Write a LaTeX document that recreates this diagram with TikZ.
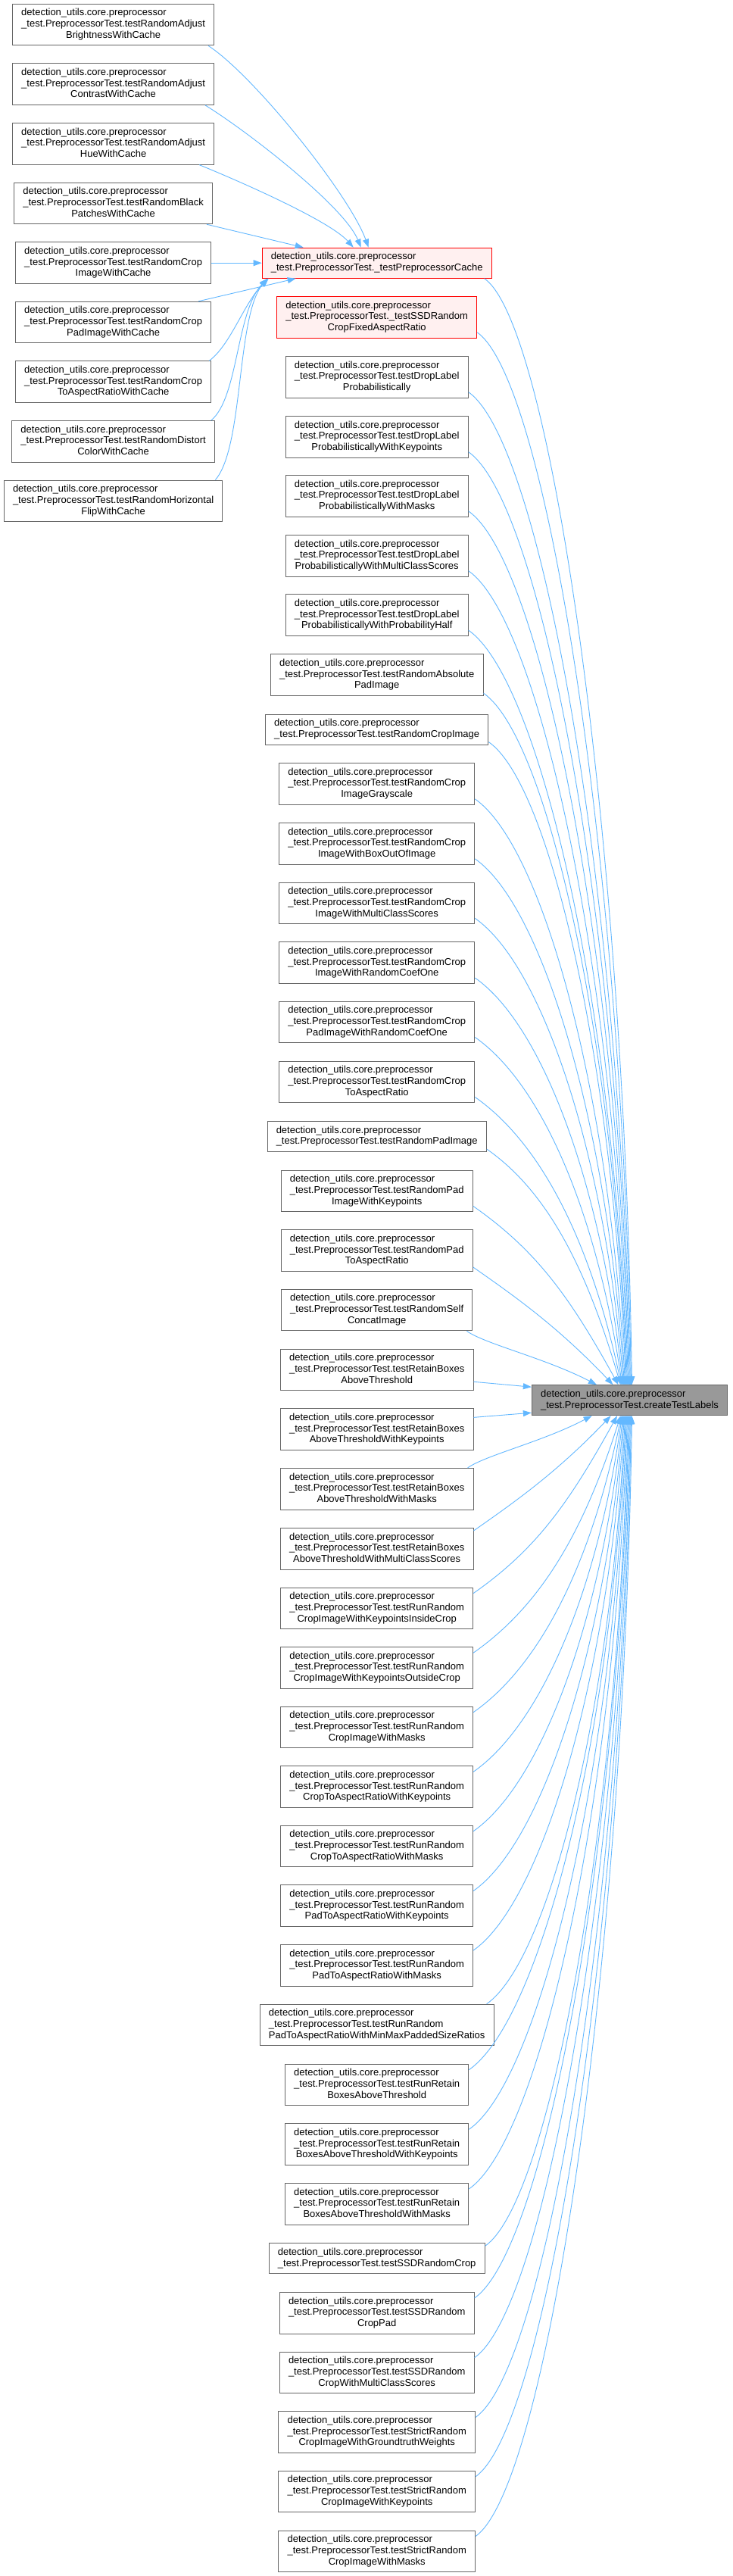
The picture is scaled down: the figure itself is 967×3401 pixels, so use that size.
\documentclass[tikz,border=0pt]{standalone}
\usepackage{fontspec}
\setmainfont{Liberation Sans}
\usetikzlibrary{arrows.meta,calc}
\definecolor{edgeblue}{HTML}{63B8FF}
\definecolor{boxgray}{HTML}{666666}
\definecolor{redfill}{HTML}{FFF0F0}
\definecolor{ctlfill}{HTML}{999999}
\newcommand\dxlab[2]{\begin{tabular}{@{}l@{}}detection\_utils.core.preprocessor\\\_test.PreprocessorTest.#1\\\multicolumn{1}{@{}c@{}}{#2}\end{tabular}}
\newcommand\dxlabtwo[1]{\begin{tabular}{@{}l@{}}detection\_utils.core.preprocessor\\\_test.PreprocessorTest.#1\end{tabular}}
\tikzset{
  fnbox/.style={rectangle, draw=boxgray, fill=white, line width=1pt, inner xsep=11.7pt, inner ysep=5.3pt, font=\fontsize{13}{14.7}\selectfont},
  redbox/.style={fnbox, draw=red, fill=redfill},
  ctlbox/.style={fnbox, fill=ctlfill},
  calledge/.style={draw=edgeblue, line width=0.9pt, -{Triangle[length=11pt,width=8pt]}}
}
\newcommand\upedge[2]{%
  \draw[calledge] let \p1=#1, \p2=($(ctl.north)+(#2,0)$),
    \n1={\x2-\x1}, \n2={\y1-\y2}, \n3={min(0.45*\n1,0.35*\n2)}, \n4={0.4*200/max(\n2,200)*\n1}
  in (\p1) .. controls ({\x1+\n3},{\y1-0.7*\n3}) and ({\x2-\n4},{\y2+0.5*\n2}) .. (\p2);}
\newcommand\downedge[2]{%
  \draw[calledge] let \p1=#1, \p2=($(ctl.south)+(#2,0)$),
    \n1={\x2-\x1}, \n2={\y2-\y1}, \n3={min(0.45*\n1,0.35*\n2)}, \n4={0.4*200/max(\n2,200)*\n1}
  in (\p1) .. controls ({\x1+\n3},{\y1+0.7*\n3}) and ({\x2-\n4},{\y2-0.5*\n2}) .. (\p2);}
\begin{document}
\begin{tikzpicture}[x=1pt,y=1pt]
\useasboundingbox (0,0) rectangle (967,-3401);
\fill[white] (0,0) rectangle (967,-3401);
% left column
\node[fnbox] (L1) at (149.6,-32.6) {\dxlab{testRandomAdjust}{BrightnessWithCache}};
\node[fnbox] (L2) at (149.6,-111.2) {\dxlab{testRandomAdjust}{ContrastWithCache}};
\node[fnbox] (L3) at (149.6,-189.8) {\dxlab{testRandomAdjust}{HueWithCache}};
\node[fnbox] (L4) at (149.6,-268.4) {\dxlab{testRandomBlack}{PatchesWithCache}};
\node[fnbox] (L5) at (149.6,-347.2) {\dxlab{testRandomCrop}{ImageWithCache}};
\node[fnbox] (L6) at (149.6,-425.6) {\dxlab{testRandomCrop}{PadImageWithCache}};
\node[fnbox] (L7) at (149.6,-504.2) {\dxlab{testRandomCrop}{ToAspectRatioWithCache}};
\node[fnbox] (L8) at (149.6,-582.8) {\dxlab{testRandomDistort}{ColorWithCache}};
\node[fnbox] (L9) at (149.6,-661.4) {\dxlab{testRandomHorizontal}{FlipWithCache}};
% middle column
\node[redbox] (cache) at (497.7,-347.2) {\dxlabtwo{\_testPreprocessorCache}};
\node[redbox] (SSD) at (497.7,-419) {\dxlab{\_testSSDRandom}{CropFixedAspectRatio}};
\node[fnbox] (M2) at (497.7,-497.8) {\dxlab{testDropLabel}{Probabilistically}};
\node[fnbox] (M3) at (497.7,-576.8) {\dxlab{testDropLabel}{ProbabilisticallyWithKeypoints}};
\node[fnbox] (M4) at (497.7,-655) {\dxlab{testDropLabel}{ProbabilisticallyWithMasks}};
\node[fnbox] (M5) at (497.7,-733.8) {\dxlab{testDropLabel}{ProbabilisticallyWithMultiClassScores}};
\node[fnbox] (M6) at (497.7,-812.2) {\dxlab{testDropLabel}{ProbabilisticallyWithProbabilityHalf}};
\node[fnbox] (M7) at (497.7,-891.3) {\dxlab{testRandomAbsolute}{PadImage}};
\node[fnbox] (M8) at (497.7,-963.1) {\dxlabtwo{testRandomCropImage}};
\node[fnbox] (M9) at (497.7,-1035) {\dxlab{testRandomCrop}{ImageGrayscale}};
\node[fnbox] (M10) at (497.7,-1114) {\dxlab{testRandomCrop}{ImageWithBoxOutOfImage}};
\node[fnbox] (M11) at (497.7,-1192.5) {\dxlab{testRandomCrop}{ImageWithMultiClassScores}};
\node[fnbox] (M12) at (497.7,-1271.2) {\dxlab{testRandomCrop}{ImageWithRandomCoefOne}};
\node[fnbox] (M13) at (497.7,-1349.6) {\dxlab{testRandomCrop}{PadImageWithRandomCoefOne}};
\node[fnbox] (M14) at (497.7,-1428.6) {\dxlab{testRandomCrop}{ToAspectRatio}};
\node[fnbox] (M15) at (497.7,-1500.6) {\dxlabtwo{testRandomPadImage}};
\node[fnbox] (M16) at (497.7,-1572.5) {\dxlab{testRandomPad}{ImageWithKeypoints}};
\node[fnbox] (M17) at (497.7,-1651.1) {\dxlab{testRandomPad}{ToAspectRatio}};
\node[fnbox] (M18) at (497.7,-1729.5) {\dxlab{testRandomSelf}{ConcatImage}};
\node[fnbox] (M19) at (497.7,-1808.4) {\dxlab{testRetainBoxes}{AboveThreshold}};
\node[fnbox] (M20) at (497.7,-1887.2) {\dxlab{testRetainBoxes}{AboveThresholdWithKeypoints}};
\node[fnbox] (M21) at (497.7,-1965.8) {\dxlab{testRetainBoxes}{AboveThresholdWithMasks}};
\node[fnbox] (M22) at (497.7,-2044.8) {\dxlab{testRetainBoxes}{AboveThresholdWithMultiClassScores}};
\node[fnbox] (M23) at (497.7,-2123.4) {\dxlab{testRunRandom}{CropImageWithKeypointsInsideCrop}};
\node[fnbox] (M24) at (497.7,-2202) {\dxlab{testRunRandom}{CropImageWithKeypointsOutsideCrop}};
\node[fnbox] (M25) at (497.7,-2280.5) {\dxlab{testRunRandom}{CropImageWithMasks}};
\node[fnbox] (M26) at (497.7,-2359.1) {\dxlab{testRunRandom}{CropToAspectRatioWithKeypoints}};
\node[fnbox] (M27) at (497.7,-2437.5) {\dxlab{testRunRandom}{CropToAspectRatioWithMasks}};
\node[fnbox] (M28) at (497.7,-2516.3) {\dxlab{testRunRandom}{PadToAspectRatioWithKeypoints}};
\node[fnbox] (M29) at (497.7,-2594.8) {\dxlab{testRunRandom}{PadToAspectRatioWithMasks}};
\node[fnbox] (M30) at (497.7,-2673.6) {\dxlab{testRunRandom}{PadToAspectRatioWithMinMaxPaddedSizeRatios}};
\node[fnbox] (M31) at (497.7,-2752.5) {\dxlab{testRunRetain}{BoxesAboveThreshold}};
\node[fnbox] (M32) at (497.7,-2831.2) {\dxlab{testRunRetain}{BoxesAboveThresholdWithKeypoints}};
\node[fnbox] (M33) at (497.7,-2909.8) {\dxlab{testRunRetain}{BoxesAboveThresholdWithMasks}};
\node[fnbox] (M34) at (497.7,-2981.8) {\dxlabtwo{testSSDRandomCrop}};
\node[fnbox] (M35) at (497.7,-3053.9) {\dxlab{testSSDRandom}{CropPad}};
\node[fnbox] (M36) at (497.7,-3132.6) {\dxlab{testSSDRandom}{CropWithMultiClassScores}};
\node[fnbox] (M37) at (497.7,-3211.3) {\dxlab{testStrictRandom}{CropImageWithGroundtruthWeights}};
\node[fnbox] (M38) at (497.7,-3289.6) {\dxlab{testStrictRandom}{CropImageWithKeypoints}};
\node[fnbox] (M39) at (497.7,-3368.4) {\dxlab{testStrictRandom}{CropImageWithMasks}};
% target
\node[ctlbox] (ctl) at (831.5,-1848.7) {\dxlabtwo{createTestLabels}};
% left column -> cache
\draw[calledge] ($(L1.south east)+(-8,0)$) .. controls (335.6,-99.8) and (461.7,-257.7) .. ($(cache.north west)+(141,0)$);
\draw[calledge] ($(L2.south east)+(-12,0)$) .. controls (327,-173.4) and (454.7,-272.7) .. ($(cache.north west)+(131,0)$);
\draw[calledge] ($(L3.south east)+(-20,0)$) .. controls (324,-242.4) and (436.7,-292.7) .. ($(cache.north west)+(121,0)$);
\draw[calledge] ($(L4.south east)+(-8,0)$) -- ($(cache.north west)+(55,0)$);
\draw[calledge] (L5.east) -- (cache.west);
\draw[calledge] ($(L6.north east)+(-17,0)$) -- ($(cache.south west)+(45,0)$);
\draw[calledge] ($(L7.north east)+(-3,0)$) .. controls (305,-455) and (322,-400) .. ($(cache.south west)+(9,0)$);
\draw[calledge] ($(L8.north east)+(-5,0)$) .. controls (315,-525) and (312,-410) .. ($(cache.south west)+(8,0)$);
\draw[calledge] ($(L9.north east)+(-10,0)$) .. controls (322,-590) and (312,-420) .. ($(cache.south west)+(7,0)$);
% upper edges -> createTestLabels
\upedge{($(cache.south east)+(-10,0)$)}{3}
\upedge{($(SSD.south east)+(0,8)$)}{2}
\upedge{($(M2.south east)+(0,8)$)}{1}
\upedge{($(M3.south east)+(0,8)$)}{0}
\upedge{($(M4.south east)+(0,8)$)}{-1}
\upedge{($(M5.south east)+(0,8)$)}{-2}
\upedge{($(M6.south east)+(0,8)$)}{-3}
\upedge{($(M7.south east)+(0,4)$)}{-4}
\upedge{($(M8.south east)+(0,4)$)}{-5}
\upedge{($(M9.south east)+(0,8)$)}{-6}
\upedge{($(M10.south east)+(0,8)$)}{-7}
\upedge{($(M11.south east)+(0,8)$)}{-8}
\upedge{($(M12.south east)+(0,8)$)}{-9}
\upedge{($(M13.south east)+(0,8)$)}{-10}
\upedge{($(M14.south east)+(0,8)$)}{-11}
\upedge{($(M15.south east)+(0,4)$)}{-12}
\upedge{($(M16.south east)+(0,8)$)}{-15}
\upedge{($(M17.south east)+(0,6)$)}{-22}
\upedge{($(M18.south east)+(-8,0)$)}{-43.5}
\draw[calledge] ($(M19.south east)+(0,12)$) -- ($(ctl.north west)+(0,-3)$);
\draw[calledge] ($(M20.north east)+(0,-12)$) -- ($(ctl.south west)+(0,4)$);
% lower edges -> createTestLabels
\downedge{($(M21.north east)+(-8,0)$)}{-49.8}
\downedge{($(M22.north east)+(0,-4)$)}{-24.8}
\downedge{($(M23.north east)+(0,-8)$)}{-16.5}
\downedge{($(M24.north east)+(0,-8)$)}{-12}
\downedge{($(M25.north east)+(0,-8)$)}{-11}
\downedge{($(M26.north east)+(0,-8)$)}{-10}
\downedge{($(M27.north east)+(0,-8)$)}{-9}
\downedge{($(M28.north east)+(0,-8)$)}{-8}
\downedge{($(M29.north east)+(0,-8)$)}{-7}
\downedge{($(M30.north east)+(-10,0)$)}{-6}
\downedge{($(M31.north east)+(0,-8)$)}{-5}
\downedge{($(M32.north east)+(0,-8)$)}{-4}
\downedge{($(M33.north east)+(0,-8)$)}{-3}
\downedge{($(M34.north east)+(0,-4)$)}{-2}
\downedge{($(M35.north east)+(0,-8)$)}{-1}
\downedge{($(M36.north east)+(0,-8)$)}{0}
\downedge{($(M37.north east)+(0,-8)$)}{1}
\downedge{($(M38.north east)+(0,-8)$)}{2}
\downedge{($(M39.north east)+(0,-8)$)}{3}
\end{tikzpicture}
\end{document}
